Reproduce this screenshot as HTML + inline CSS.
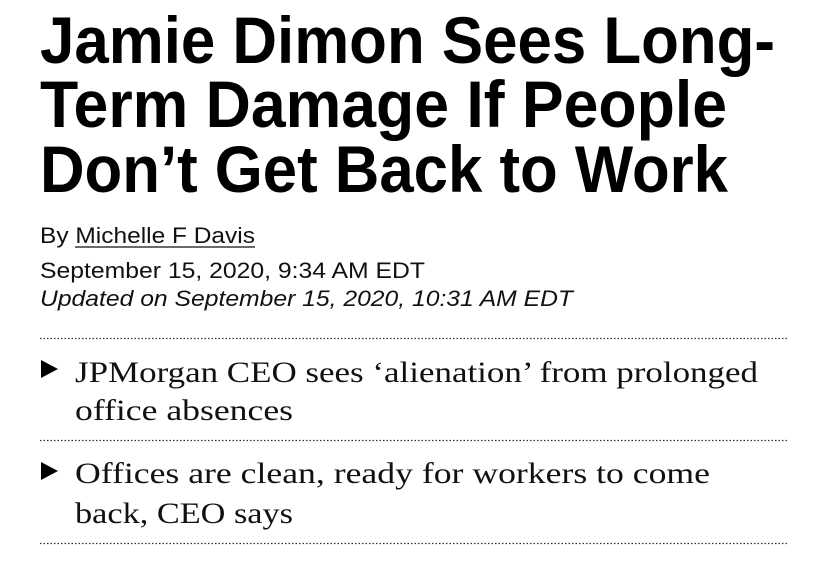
<!DOCTYPE html>
<html><head><meta charset="utf-8"><style>
html,body{margin:0;padding:0;background:#fff;width:827px;height:563px;overflow:hidden}
svg{display:block}
</style></head><body>
<svg width="827" height="563" viewBox="0 0 827 563">
<g font-family="Liberation Sans, Arial, sans-serif" font-weight="bold" font-size="66" fill="#000">
<text x="40" y="63" textLength="735" lengthAdjust="spacingAndGlyphs">Jamie Dimon Sees Long-</text>
<text x="40" y="127" textLength="687" lengthAdjust="spacingAndGlyphs">Term Damage If People</text>
<text x="40" y="192" textLength="688" lengthAdjust="spacingAndGlyphs">Don’t Get Back to Work</text>
</g>
<g font-family="Liberation Sans, Arial, sans-serif" font-size="22" fill="#111">
<text x="40" y="243" textLength="215" lengthAdjust="spacingAndGlyphs">By <tspan>Michelle F Davis</tspan></text>
<line x1="75" y1="247" x2="255" y2="247" stroke="#111" stroke-width="1.2"/>
<text x="40" y="278" textLength="385" lengthAdjust="spacingAndGlyphs">September 15, 2020, 9:34 AM EDT</text>
<text x="40" y="306" font-style="italic" textLength="533" lengthAdjust="spacingAndGlyphs">Updated on September 15, 2020, 10:31 AM EDT</text>
</g>
<g stroke="#333" stroke-width="1.3" stroke-dasharray="1.5 2">
<line x1="40" y1="338.5" x2="788" y2="338.5"/>
<line x1="40" y1="440.5" x2="788" y2="440.5"/>
<line x1="40" y1="543.5" x2="788" y2="543.5"/>
</g>
<g fill="#000">
<polygon points="41,360 58,369 41,378"/>
<polygon points="41,462 58,471 41,480"/>
</g>
<g font-family="Liberation Serif, Georgia, serif" font-size="30" fill="#111">
<text x="75" y="382" textLength="683" lengthAdjust="spacingAndGlyphs">JPMorgan CEO sees ‘alienation’ from prolonged</text>
<text x="75" y="420" textLength="218" lengthAdjust="spacingAndGlyphs">office absences</text>
<text x="75" y="483" textLength="635" lengthAdjust="spacingAndGlyphs">Offices are clean, ready for workers to come</text>
<text x="75" y="523" textLength="218" lengthAdjust="spacingAndGlyphs">back, CEO says</text>
</g>
</svg>
</body></html>
